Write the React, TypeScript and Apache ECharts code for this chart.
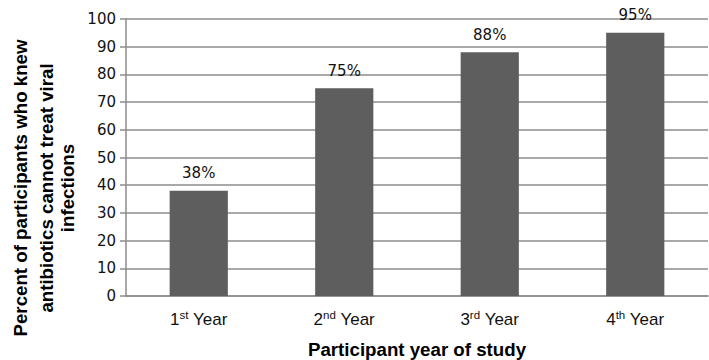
import React, { useEffect, useRef } from "react";
import * as echarts from "echarts";

// Study years: ordinal number, its suffix, and the share who knew the answer
const yearNumbers = ["1", "2", "3", "4"];
const yearSuffixes = ["st", "nd", "rd", "th"];
const percentKnew = [38, 75, 88, 95];

const yTitleLines = [
  "Percent of participants who knew",
  "antibiotics cannot treat viral",
  "infections",
];
const xTitle = "Participant year of study";

const categories = yearNumbers.map((n, i) => `${n}|${yearSuffixes[i]}`);

// horizontal centre of each rotated title line
const yTitleLineX = [20.5, 46.5, 67.5];

export default function App() {
  const ref = useRef<HTMLDivElement>(null);

  useEffect(() => {
    document.body.style.margin = "0";
    if (!ref.current) return;
    const chart = echarts.init(ref.current, undefined, { renderer: "svg" });
    const gridColor = "#8c8c8c";
    chart.setOption({
      animation: false,
      backgroundColor: "#ffffff",
      grid: {
        left: 126,
        right: 1,
        top: 19,
        bottom: 64,
        containLabel: false,
        outerBoundsMode: "none",
      },
      xAxis: {
        type: "category",
        data: categories,
        name: xTitle,
        nameLocation: "middle",
        nameGap: 44,
        nameTextStyle: {
          fontFamily: "Liberation Sans",
          fontWeight: "bold",
          fontSize: 18.7,
          color: "#000",
        },
        axisLine: { show: true, lineStyle: { color: gridColor, width: 1.5 } },
        axisTick: { show: false },
        axisLabel: {
          margin: 13,
          formatter: (v: string) => {
            const [n, s] = v.split("|");
            return `{n|${n}}{s|${s}}{t| Year}`;
          },
          rich: {
            n: { fontFamily: "Liberation Sans", fontSize: 17, color: "#111", verticalAlign: "bottom", lineHeight: 19 },
            s: { fontFamily: "Liberation Sans", fontSize: 11.5, color: "#111", verticalAlign: "top", lineHeight: 19 },
            t: { fontFamily: "Liberation Sans", fontSize: 17, color: "#111", verticalAlign: "bottom", lineHeight: 19 },
          },
        },
      },
      yAxis: {
        type: "value",
        min: 0,
        max: 100,
        interval: 10,
        axisLine: { show: true, lineStyle: { color: gridColor, width: 1.5 } },
        axisTick: { show: true, length: 6, inside: false, lineStyle: { color: gridColor, width: 1.5 } },
        axisLabel: {
          margin: 10,
          fontFamily: "DejaVu Sans",
          fontSize: 15,
          color: "#111",
        },
        splitLine: { show: true, lineStyle: { color: gridColor, width: 1.5 } },
      },
      series: [
        {
          type: "bar",
          data: percentKnew,
          barWidth: "40%",
          itemStyle: { color: "#5e5e5e" },
          label: {
            show: true,
            position: "top",
            distance: 10,
            formatter: (p: any) => `${p.value}%`,
            fontFamily: "DejaVu Sans",
            fontSize: 15,
            color: "#111",
          },
        },
      ],
      graphic: yTitleLines.map((line, i) => ({
        type: "text",
        x: yTitleLineX[i],
        y: 188,
        rotation: Math.PI / 2,
        style: {
          text: line,
          fontFamily: "Liberation Sans",
          fontWeight: "bold",
          fontSize: 18.7,
          fill: "#000",
          align: "center",
          verticalAlign: "middle",
        },
      })),
    });
    return () => chart.dispose();
  }, []);

  return <div ref={ref} style={{ width: 709, height: 360 }} />;
}
